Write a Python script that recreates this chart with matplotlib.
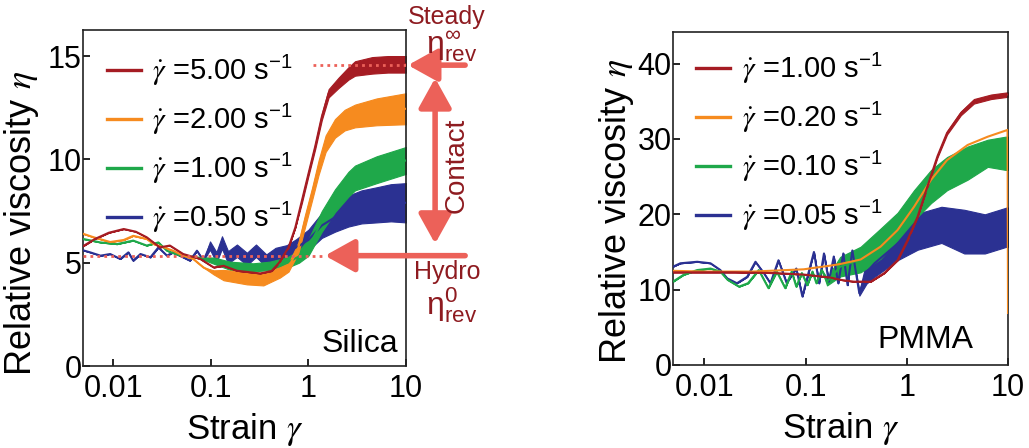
import numpy as np
import matplotlib
matplotlib.use('Agg')
import matplotlib.pyplot as plt

plt.rcParams['font.family'] = ['Liberation Sans', 'DejaVu Sans']
plt.rcParams['mathtext.fontset'] = 'stix'

# colours
RED = '#a51c23'
ORANGE = '#f68b1f'
GREEN = '#1fa84a'
BLUE = '#2b3192'
ARROW = '#ec6159'
DARKRED = '#8e1b20'

# ---------- Silica (left panel) ----------
si_labels = ['5.00', '2.00', '1.00', '0.50']

si_red_x = [0.0049, 0.0065, 0.009, 0.0128, 0.017, 0.022, 0.030, 0.038, 0.052, 0.078,
            0.107, 0.135, 0.185, 0.32, 0.42, 0.50, 0.625, 0.733, 0.857, 1.0, 1.17,
            1.37, 1.61, 2.03, 2.57, 3.0, 4.5, 6.5, 10]
si_red = [5.8, 6.15, 6.45, 6.63, 6.5, 6.23, 5.74, 5.83, 5.42, 5.18, 4.77, 4.85, 4.61,
          4.48, 4.6, 5.0, 5.74, 6.7, 8.0, 9.3, 10.6, 12.05, 13.2, 13.7, 14.16, 14.4,
          14.55, 14.6, 14.6]
si_red_spread = [0, 0, 0, 0, 0, 0, 0, 0, 0, 0, 0, 0, 0, 0, 0, 0, 0, 0, 0.1, 0.1, 0.12,
                 0.15, 0.2, 0.25, 0.3, 0.35, 0.4, 0.4, 0.4]

si_orange_x = [0.0049, 0.0063, 0.0093, 0.0128, 0.016, 0.022, 0.026, 0.033, 0.041, 0.052,
               0.066, 0.084, 0.107, 0.135, 0.234, 0.345, 0.51, 0.625, 0.79, 0.92, 1.09,
               1.27, 1.5, 1.87, 2.35, 3.0, 5.0, 10]
si_orange = [6.4, 6.23, 6.0, 6.1, 6.3, 6.15, 5.9, 5.74, 5.58, 5.34, 5.18, 4.77, 4.53, 4.4,
             4.25, 4.2, 4.53, 4.77, 5.74, 7.0, 8.33, 9.6, 10.76, 11.5, 11.9, 12.1, 12.3,
             12.45]
si_orange_spread = [0, 0, 0, 0, 0, 0, 0, 0, 0, 0, 0, 0, 0.1, 0.25, 0.3, 0.3, 0.25, 0.2,
                    0.25, 0.3, 0.3, 0.35, 0.4, 0.45, 0.5, 0.55, 0.65, 0.75]

si_green_x = [0.0049, 0.0074, 0.0109, 0.016, 0.022, 0.029, 0.0355, 0.0486, 0.072, 0.107,
              0.158, 0.27, 0.40, 0.60, 0.80, 1.0, 1.37, 1.87, 2.57, 3.0, 5.0, 10]
si_green = [6.15, 5.98, 5.9, 6.07, 5.83, 5.98, 5.58, 5.34, 5.26, 5.1, 4.85, 4.77, 4.85,
            5.0, 5.3, 5.74, 7.0, 8.0, 8.8, 9.1, 9.5, 9.95]
si_green_spread = [0, 0, 0, 0, 0, 0, 0, 0, 0, 0.15, 0.2, 0.2, 0.2, 0.25, 0.3, 0.4, 0.5,
                   0.55, 0.6, 0.6, 0.65, 0.65]

si_blue_x = [0.0049, 0.0058, 0.0074, 0.0093, 0.0118, 0.0143, 0.016, 0.019, 0.024, 0.029,
             0.0355, 0.041, 0.048, 0.061, 0.072, 0.084, 0.098, 0.114, 0.13, 0.15, 0.185,
             0.234, 0.29, 0.37, 0.46, 0.6, 0.75, 1.0, 1.37, 1.87, 2.57, 3.5, 5.0, 7.0, 10]
si_blue = [5.6, 5.5, 5.34, 5.42, 5.18, 5.5, 5.1, 5.42, 5.26, 5.74, 5.34, 5.5, 5.34, 5.1,
           5.58, 5.1, 5.83, 5.26, 5.98, 5.26, 5.58, 5.18, 5.58, 5.1, 5.42, 5.5, 5.74, 6.1,
           6.8, 7.2, 7.5, 7.7, 7.8, 7.9, 7.9]
si_blue_spread = [0, 0, 0, 0, 0, 0, 0, 0, 0, 0, 0, 0, 0, 0, 0, 0, 0.2, 0.25, 0.3, 0.3,
                  0.3, 0.3, 0.3, 0.3, 0.3, 0.35, 0.4, 0.5, 0.6, 0.7, 0.75, 0.8, 0.85, 0.9,
                  0.95]

si_steady = 14.56
si_hydro = 5.34

# ---------- PMMA (right panel) ----------
pm_labels = ['1.00', '0.20', '0.10', '0.05']

pm_red_x = [0.0049, 0.01, 0.02, 0.05, 0.096, 0.178, 0.222, 0.30, 0.44, 0.60, 0.81, 1.02,
            1.28, 1.60, 2.01, 2.5, 3.42, 4.6, 6.8, 10]
pm_red = [12.3, 12.3, 12.3, 12.2, 12.0, 11.6, 11.3, 11.06, 11.06, 12.2, 13.9, 16.6, 19.7,
          23.7, 27.7, 30.8, 33.4, 35.0, 35.6, 35.9]
pm_red_spread = [0, 0, 0, 0, 0, 0, 0, 0, 0, 0, 0, 0, 0, 0.1, 0.15, 0.2, 0.25, 0.3, 0.3,
                 0.3]

pm_orange_x = [0.0049, 0.01, 0.03, 0.096, 0.178, 0.22, 0.35, 0.55, 0.81, 1.18, 1.74, 2.5,
               3.99, 6.3, 9.9, 10]
pm_orange = [12.5, 12.4, 12.4, 12.7, 13.2, 13.4, 14.0, 15.7, 17.9, 21.0, 24.6, 27.2, 29.2,
             30.3, 31.2, 6.9]

pm_green_x = [0.0049, 0.0062, 0.0085, 0.0115, 0.0144, 0.017, 0.022, 0.027, 0.0345, 0.043,
              0.052, 0.063, 0.073, 0.081, 0.092, 0.104, 0.117, 0.128, 0.145, 0.163, 0.22,
              0.35, 0.55, 0.81, 1.18, 1.74, 2.5, 4.0, 6.3, 9.4, 10]
pm_green = [11.06, 11.95, 12.6, 12.8, 12.4, 11.3, 10.4, 10.85, 12.6, 10.2, 12.4, 10.2,
            12.4, 10.4, 12.2, 10.6, 12.4, 10.85, 12.6, 11.06, 13.05, 14.0, 16.1, 18.4,
            21.2, 23.7, 25.4, 26.8, 28.1, 28.1, 28.1]
pm_green_spread = [0, 0, 0, 0, 0, 0, 0, 0, 0, 0, 0, 0, 0, 0, 0, 0, 0, 0, 0, 0.5, 1.3, 1.7,
                   2.0, 1.8, 2.0, 2.2, 2.2, 2.2, 1.8, 2.2, 2.2]

pm_blue_x = [0.0049, 0.0058, 0.0085, 0.0115, 0.0144, 0.0168, 0.021, 0.0265, 0.032,
             0.0387, 0.045, 0.054, 0.065, 0.081, 0.093, 0.121, 0.136, 0.152, 0.17, 0.19,
             0.21, 0.236, 0.26, 0.29, 0.34, 0.40, 0.48, 0.81, 1.28, 2.2, 3.7, 5.9, 9.7, 10]
pm_blue = [13.05, 13.5, 13.7, 13.5, 12.6, 11.5, 10.85, 11.7, 13.7, 12.2, 10.85, 13.9,
           10.9, 12.8, 9.1, 15.0, 10.85, 14.8, 11.06, 14.4, 10.85, 14.8, 10.6, 15.2, 9.5,
           12.3, 13.5, 16.1, 17.7, 18.6, 17.7, 17.4, 18.3, 18.3]
pm_blue_spread = [0, 0, 0, 0, 0, 0, 0, 0, 0, 0, 0, 0, 0, 0, 0, 0, 0, 0, 0, 0, 0, 0, 0, 0,
                  0.3, 1.5, 1.8, 2.2, 2.4, 2.4, 2.9, 2.6, 2.6, 2.6]

xticks = [0.01, 0.1, 1, 10]
xticklabels = ['0.01', '0.1', '1', '10']


def band(ax, x, y, spread, color):
    x = np.array(x)
    y = np.array(y)
    s = np.array(spread)
    poly = ax.fill_between(x, y - s, y + s, color=color, lw=0.8, zorder=2)
    poly.set_sketch_params(scale=2.5, length=1.5, randomness=2)
    ax.plot(x, y, color=color, lw=1.5, zorder=3)


def style(ax, ymax, yticks):
    ax.set_xscale('log')
    ax.set_xlim(0.0049, 10)
    ax.set_ylim(0, ymax)
    ax.set_xticks(xticks)
    ax.set_xticklabels(xticklabels)
    ax.xaxis.set_minor_locator(matplotlib.ticker.NullLocator())
    ax.set_yticks(yticks)
    ax.tick_params(direction='in', length=5, width=1.2, labelsize=22, pad=1)
    ax.tick_params(axis='x', pad=6)
    for sp in ax.spines.values():
        sp.set_linewidth(1.2)
        sp.set_color('#222222')


def legend_labels(vals):
    return [r'$\dot{\gamma}$ =' + v + r' s$^{\mathregular{-1}}$' for v in vals]


fig = plt.figure(figsize=(10.29, 4.48), dpi=100)

# left panel
ax = fig.add_axes([0.0807, 0.183, 0.3139, 0.75])
band(ax, si_blue_x, si_blue, si_blue_spread, BLUE)
band(ax, si_green_x, si_green, si_green_spread, GREEN)
band(ax, si_orange_x, si_orange, si_orange_spread, ORANGE)
band(ax, si_red_x, si_red, si_red_spread, RED)
ax.plot([1.12, 10], [si_steady, si_steady], color=ARROW, lw=2, ls=(0, (1, 1.5)), zorder=4)
ax.plot([0.0049, 1.48], [si_hydro, si_hydro], color=ARROW, lw=2, ls=(0, (1, 1.5)), zorder=4)
style(ax, 16.26, [0, 5, 10, 15])
ax.set_xlabel(r'Strain $\gamma$', fontsize=25)
ax.set_ylabel(r'Relative viscosity $\eta$', fontsize=26)
ax.xaxis.set_label_coords(0.5, -0.135)
ax.yaxis.set_label_coords(-0.13, 0.425)
ax.text(0.975, 0.042, 'Silica', ha='right', va='baseline', fontsize=23,
        transform=ax.transAxes)
handles = [plt.Line2D([], [], color=c, lw=2.4) for c in [RED, ORANGE, GREEN, BLUE]]
ax.legend(handles, legend_labels(si_labels),
          loc='upper left', bbox_to_anchor=(0.075, 0.93), frameon=False, fontsize=21,
          handlelength=1.15, handletextpad=0.4, labelspacing=0.5, borderpad=0,
          borderaxespad=0)

# arrows and annotations
ap = dict(arrowstyle='-|>,head_length=0.9,head_width=0.5', lw=4, color=ARROW,
          shrinkA=0, shrinkB=0, mutation_scale=20)
ax.annotate('', xy=(1.006, si_steady), xytext=(1.183, si_steady),
            xycoords=('axes fraction', 'data'), textcoords=('axes fraction', 'data'),
            arrowprops=ap, annotation_clip=False)
ax.annotate('', xy=(0.749, si_hydro), xytext=(1.183, si_hydro),
            xycoords=('axes fraction', 'data'), textcoords=('axes fraction', 'data'),
            arrowprops=ap, annotation_clip=False, zorder=5)
ap2 = dict(ap)
ap2['arrowstyle'] = '<|-|>,head_length=0.9,head_width=0.5'
ax.annotate('', xy=(1.09, 13.93), xytext=(1.09, 5.92),
            xycoords=('axes fraction', 'data'), textcoords=('axes fraction', 'data'),
            arrowprops=ap2, annotation_clip=False)
fig.text(447 / 1029, 1 - 17 / 448, 'Steady', ha='center', va='center', fontsize=18,
         color=DARKRED)
fig.text(452 / 1029, 1 - 46 / 448, r'$\mathregular{η^{∞}_{rev}}$', ha='center',
         va='center', fontsize=23, color=DARKRED)
fig.text(457 / 1029, 1 - 165 / 448, 'Contact', ha='center', va='center', fontsize=20,
         rotation=90, color=DARKRED)
fig.text(447 / 1029, 1 - 272 / 448, 'Hydro', ha='center', va='center', fontsize=18,
         color=DARKRED)
fig.text(452 / 1029, 1 - 305 / 448, r'$\mathregular{η^{0}_{rev}}$', ha='center',
         va='center', fontsize=23, color=DARKRED)

# right panel
ax2 = fig.add_axes([0.654, 0.1853, 0.3256, 0.7433])
band(ax2, pm_blue_x, pm_blue, pm_blue_spread, BLUE)
band(ax2, pm_green_x, pm_green, pm_green_spread, GREEN)
ax2.plot(pm_orange_x, pm_orange, color=ORANGE, lw=1.5, zorder=3)
band(ax2, pm_red_x, pm_red, pm_red_spread, RED)
style(ax2, 44.2, [0, 10, 20, 30, 40])
ax2.set_xlabel(r'Strain $\gamma$', fontsize=25)
ax2.set_ylabel(r'Relative viscosity $\eta$', fontsize=26)
ax2.xaxis.set_label_coords(0.5, -0.135)
ax2.yaxis.set_label_coords(-0.11, 0.462)
ax2.text(0.896, 0.051, 'PMMA', ha='right', va='baseline', fontsize=23,
         transform=ax2.transAxes)
ax2.legend(handles, legend_labels(pm_labels),
           loc='upper left', bbox_to_anchor=(0.07, 0.94), frameon=False, fontsize=21,
           handlelength=1.15, handletextpad=0.4, labelspacing=0.5, borderpad=0,
           borderaxespad=0)

fig.savefig('out.png', dpi=100)
